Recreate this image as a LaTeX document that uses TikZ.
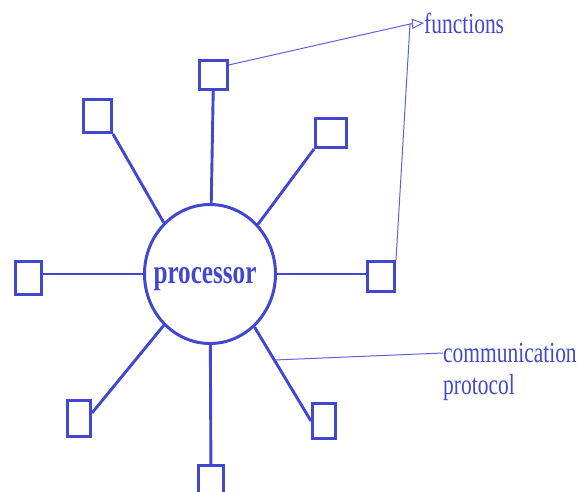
\documentclass[tikz,border=0pt]{standalone}
\usepackage{fontspec}
\setmainfont{Liberation Serif}
\newfontfamily\narrowserif{Liberation Serif}[FakeStretch=0.74]
\usetikzlibrary{shapes.geometric,arrows.meta}
\definecolor{pblue}{RGB}{65,72,205}
\definecolor{lblue}{RGB}{90,98,222}

\begin{document}
\begin{tikzpicture}[x=1pt, y=-1pt,
	box/.style={draw=pblue, line width=3pt, rectangle, inner sep=0pt},
	spoke/.style={draw=pblue, line width=2.9pt},
	note/.style={draw=lblue, line width=1pt},
	lbl/.style={text=pblue, inner sep=0pt, anchor=west, font=\narrowserif\fontsize{29}{32}\selectfont}]
	\clip (0,0) rectangle (579,491);
	\node[draw=pblue, line width=3pt, ellipse, minimum width=131pt, minimum height=139pt, inner sep=0pt] (proc) at (210,274) {};
	\node[text=pblue, inner sep=0pt, font=\narrowserif\bfseries\fontsize{34}{36}\selectfont] (proctxt) at (205,279) {processor};
	% boxes
	\node[box, minimum width=28pt, minimum height=29pt] (btop) at (213.5,75) {};
	\node[box, minimum width=28pt, minimum height=33pt] (bul) at (97.5,116) {};
	\node[box, minimum width=26pt, minimum height=33pt] (bleft) at (28.5,278) {};
	\node[box, minimum width=31pt, minimum height=29pt] (bur) at (331,133) {};
	\node[box, minimum width=27pt, minimum height=30pt] (bright) at (381,276.5) {};
	\node[box, minimum width=23pt, minimum height=36pt] (bll) at (79,418.5) {};
	\node[box, minimum width=25pt, minimum height=33pt] (bbot) at (211,482) {};
	\node[box, minimum width=23pt, minimum height=35pt] (blr) at (324,421) {};
	% spokes
	\draw[spoke] (proc) -- (btop);
	\draw[spoke] (proc.132) -- (bul.south east);
	\draw[spoke] (proc.west) -- (proc.west -| bleft.east);
	\draw[spoke] (proc.46) -- (bur.south west);
	\draw[spoke] (proc.east) -- (proc.east -| bright.west);
	\draw[spoke] (proc.228) -- (bll.23);
	\draw[spoke] (proc) -- (bbot);
	\draw[spoke] (proc.310) -- (blr.west);
	% labels
	\node[lbl] (fntxt) at (424,23) {functions};
	\node[lbl] (comm) at (443,353) {communication};
	\node[lbl] (proto) at (443,388) {protocol};
	\coordinate (fnj) at (410,24);
	\coordinate (cp) at (274.5,360);
	\draw[note] (btop.33) -- (fnj) -- (bright.north east);
	\draw[note, -{Triangle[open, length=12pt, width=10pt]}] (fnj) -- (fntxt.west);
	\draw[note] (cp) -- (comm.west);
\end{tikzpicture}
\end{document}
